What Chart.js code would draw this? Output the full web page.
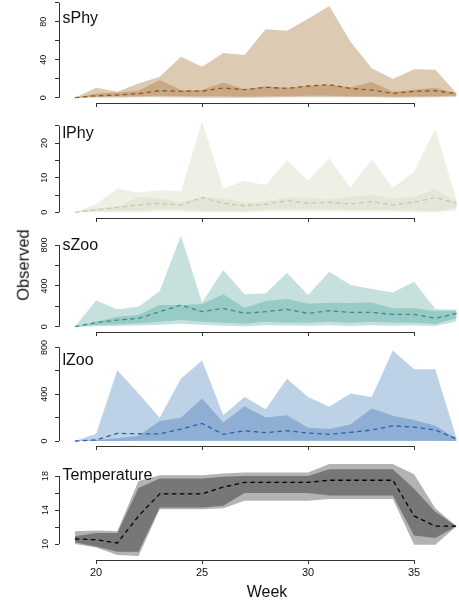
<!DOCTYPE html>
<html>
<head>
<meta charset="utf-8">
<script src="https://cdn.jsdelivr.net/npm/chart.js@4.4.1/dist/chart.umd.min.js"></script>
<style>
  html, body { margin: 0; padding: 0; background: #fff; overflow: hidden; }
  body { width: 459px; height: 606px; position: relative; font-family: "Liberation Sans", Arial, Helvetica, sans-serif; color: #111; }
  canvas { position: absolute; left: 0; }
  .lab { position: absolute; left: 62.5px; font-size: 16px; line-height: 1; white-space: nowrap; }
  #ylab { position: absolute; left: 23px; top: 265px; font-size: 16.5px; line-height: 1; white-space: nowrap;
          transform: translate(-50%, -50%) rotate(-90deg); }
  #xlab { position: absolute; left: 267px; top: 592px; font-size: 16px; line-height: 1; white-space: nowrap;
          transform: translate(-50%, -50%); }
</style>
</head>
<body>
<canvas id="c0"></canvas>
<canvas id="c1"></canvas>
<canvas id="c2"></canvas>
<canvas id="c3"></canvas>
<canvas id="c4"></canvas>
<div class="lab" style="top:9.5px">sPhy</div>
<div class="lab" style="top:125px">lPhy</div>
<div class="lab" style="top:236.5px">sZoo</div>
<div class="lab" style="top:352px">lZoo</div>
<div class="lab" style="top:466.5px">Temperature</div>
<div id="ylab">Observed</div>
<div id="xlab">Week</div>
<script>
const weeks = [19, 20, 21, 22, 23, 24, 25, 26, 27, 28, 29, 30, 31, 32, 33, 34, 35, 36, 37];
const weekTicks = [20, 25, 30, 35];

// small phytoplankton
const sPhyOuterLo = [0, 0.2, 0.3, 0.5, 0.5, 0.3, 0, 0, 0, 0.3, 0.5, 0.5, 0.5, 0.5, 0.5, 0.3, 0.3, 0.5, 1];
const sPhyOuterHi = [0, 10.5, 6.3, 15, 22, 43, 32.6, 47, 45, 72, 70.5, 83, 96.5, 59, 31, 19.6, 30, 29.5, 4.6];
const sPhyInnerLo = [0, 1, 1.2, 1.5, 2, 1.5, 1.5, 1.5, 1, 1.5, 1.5, 2, 2, 1.5, 1.5, 1, 1.2, 1.5, 2];
const sPhyInnerHi = [0, 4.5, 5.6, 7.4, 18.6, 8, 8, 16, 8.8, 12, 10.5, 12.6, 13.3, 10.9, 16.5, 6.3, 8.4, 10.5, 4.6];
const sPhyMedian = [0, 2.1, 2.8, 4.2, 7.4, 6.7, 7, 10.2, 8.4, 10.9, 9.8, 12.3, 13.7, 9.8, 8, 4.6, 6.7, 7.4, 4.2];

// large phytoplankton
const lPhyOuterLo = [0, 0, 0, 0, 0.2, 0.2, 0, 0, 0, 0.2, 0.2, 0.2, 0.2, 0.2, 0.2, 0.2, 0.1, 0, 0.5];
const lPhyOuterHi = [0, 2.3, 6.9, 5.7, 6.4, 6, 26.3, 6.9, 9.1, 7.9, 15.1, 9.2, 15.6, 7.1, 15.3, 7.1, 11.7, 24, 3.6];
const lPhyInnerLo = [0, 0.3, 0.5, 0.4, 1, 1, 0.3, 0.3, 0.3, 0.8, 0.8, 0.8, 0.8, 0.7, 0.7, 0.7, 0.5, 0.3, 1.2];
const lPhyInnerHi = [0, 1.2, 1.6, 4.5, 4, 2.9, 4.5, 4, 2.8, 3.1, 4.3, 4.2, 3.6, 4.5, 5, 4, 4.5, 6.7, 3.1];
const lPhyMedian = [0, 0.7, 1.4, 2.1, 2.6, 2.1, 4.3, 2.6, 1.9, 2.3, 3.4, 2.6, 2.9, 2.4, 3.1, 2.1, 2.9, 4.3, 2.6];

// small zooplankton
const sZooOuterLo = [0, 5, 8, 12, 20, 30, 20, 10, 5, 15, 12, 10, 15, 8, 15, 10, 12, 8, 50];
const sZooOuterHi = [0, 258, 170, 196, 349, 891, 238, 555, 317, 326, 529, 310, 539, 408, 369, 336, 441, 173, 165];
const sZooInnerLo = [0, 16, 23, 33, 49, 65, 49, 39, 29, 49, 39, 39, 49, 39, 49, 39, 39, 26, 82];
const sZooInnerHi = [0, 49, 98, 114, 212, 212, 222, 317, 186, 251, 271, 225, 235, 232, 238, 180, 180, 153, 157];
const sZooMedian = [0, 42, 65, 82, 147, 212, 147, 180, 131, 147, 170, 131, 157, 140, 140, 121, 121, 82, 131];

// large zooplankton
const lZooOuterLo = [0, 0, 0, 0, 0, 0, 0, 0, 0, 0, 0, 0, 0, 0, 0, 0, 0, 0, 0];
const lZooOuterHi = [0, 62, 604, 406, 199, 533, 689, 221, 377, 272, 533, 377, 292, 406, 377, 774, 613, 613, 23];
const lZooInnerLo = [0, 0, 1, 2, 3, 3, 3, 3, 3, 3, 3, 3, 3, 3, 3, 3, 3, 2, 1];
const lZooInnerHi = [0, 9, 23, 45, 170, 199, 363, 159, 298, 201, 221, 113, 102, 142, 278, 216, 179, 130, 23];
const lZooMedian = [0, 9, 65, 62, 60, 102, 150, 57, 88, 71, 88, 68, 57, 74, 94, 130, 119, 94, 17];

// temperature
const tempOuterLo = [10, 9.6, 8.7, 8.6, 14.1, 14.1, 14.1, 14.2, 15.1, 15.1, 15.1, 15.1, 15.3, 15.3, 15.3, 15.3, 9.9, 9.9, 12.1];
const tempOuterHi = [11.5, 11.6, 11.5, 17.4, 18.1, 18.1, 18.1, 18.3, 18.4, 18.4, 18.4, 18.4, 19.4, 19.4, 19.4, 19.4, 18.2, 14.2, 12.1];
const tempInnerLo = [10.2, 9.7, 9.1, 9.1, 14.3, 14.3, 14.3, 14.5, 16, 16, 16, 16, 15.7, 15.7, 15.7, 15.7, 11, 10.7, 12.1];
const tempInnerHi = [10.9, 11.3, 11.3, 16.6, 17.7, 17.7, 17.7, 17.9, 18, 18, 18, 18, 18.8, 18.8, 18.8, 18.8, 16.5, 13.8, 12.1];
const tempMedian = [10.6, 10.5, 10.1, 13.3, 15.9, 15.9, 15.9, 16.7, 17.25, 17.25, 17.25, 17.25, 17.5, 17.5, 17.5, 17.5, 13.3, 12.1, 12.1];

// y ticks and which of them carry a label
const sPhyTicks = [0, 20, 40, 60, 80, 100], sPhyLabels = [0, 40, 80];
const lPhyTicks = [0, 5, 10, 15, 20, 25], lPhyLabels = [0, 10, 20];
const zooTicks = [0, 200, 400, 600, 800], zooLabels = [0, 400, 800];
const tempTicks = [10, 12, 14, 16, 18], tempLabels = [10, 14, 18];

const AXIS = '#333';
const W = 459;
const LEFT = 59;

// R-style axis lines: only from first to last tick
const axisLines = {
  id: 'axisLines',
  afterDraw(chart) {
    const {ctx, chartArea, scales: {x, y}} = chart;
    ctx.save();
    ctx.strokeStyle = AXIS;
    ctx.lineWidth = 1;
    ctx.beginPath();
    const yt = y.ticks.map(t => t.value);
    const ax = Math.round(chartArea.left) + 0.5;
    ctx.moveTo(ax, y.getPixelForValue(Math.min(...yt)));
    ctx.lineTo(ax, y.getPixelForValue(Math.max(...yt)));
    const by = Math.round(chartArea.bottom) + 0.5;
    ctx.moveTo(x.getPixelForValue(weekTicks[0]), by);
    ctx.lineTo(x.getPixelForValue(weekTicks[weekTicks.length - 1]), by);
    ctx.stroke();
    ctx.restore();
  }
};

function panel(id, p) {
  const cv = document.getElementById(id);
  const h = p.padTop + (p.bottom - p.top) + p.below;
  cv.width = W; cv.height = h;
  cv.style.top = (p.top - p.padTop) + 'px';
  const pts = arr => arr.map((v, i) => ({x: weeks[i], y: v}));
  const band = {pointRadius: 0, borderWidth: 0, tension: 0};
  new Chart(cv, {
    type: 'line',
    data: {
      datasets: [
        {data: pts(p.median), borderColor: p.line, borderWidth: 1.3, borderDash: [4.5, 3.5], pointRadius: 0, fill: false, tension: 0},
        {data: pts(p.innerHi), backgroundColor: p.inner, fill: 2, ...band},
        {data: pts(p.innerLo), fill: false, ...band},
        {data: pts(p.outerHi), backgroundColor: p.outer, fill: 4, ...band},
        {data: pts(p.outerLo), fill: false, ...band}
      ]
    },
    options: {
      responsive: false,
      animation: false,
      events: [],
      layout: {padding: {top: p.padTop, left: 0, right: 0, bottom: 0}},
      plugins: {legend: {display: false}, tooltip: {enabled: false}},
      scales: {
        x: {
          type: 'linear', min: 18.25, max: 18.25 + (W - LEFT) / 21.2,
          afterBuildTicks: s => { s.ticks = weekTicks.map(v => ({value: v})); },
          afterFit: s => { s.height = p.below; s.paddingLeft = 0; s.paddingRight = 0; },
          border: {display: false},
          grid: {drawOnChartArea: false, drawTicks: true, tickLength: 4, color: AXIS, lineWidth: 1},
          ticks: {display: p.xLabels, autoSkip: false, maxRotation: 0, padding: 2, color: '#111',
                  font: {family: '"Liberation Sans", Arial, sans-serif', size: 11}}
        },
        y: {
          min: p.yMin, max: p.yMax,
          afterBuildTicks: s => { s.ticks = p.yTicks.map(v => ({value: v})); },
          afterFit: s => { s.width = LEFT; s.paddingTop = 0; s.paddingBottom = 0; },
          border: {display: false},
          grid: {drawOnChartArea: false, drawTicks: true, tickLength: 4, color: AXIS, lineWidth: 1},
          ticks: {autoSkip: false, minRotation: 90, maxRotation: 90, crossAlign: 'center', padding: p.yPad, color: '#111',
                  font: {family: '"Liberation Sans", Arial, sans-serif', size: 9}},
          // ticks without a label still get their tick mark
          afterTickToLabelConversion: s => { s.ticks.forEach(t => { t.label = p.yLabels.includes(t.value) ? String(t.value) : ''; }); }
        }
      }
    },
    plugins: [axisLines]
  });
}

// axis limits from a reference value's pixel and the px-per-unit of each panel
function limits(top, bottom, refVal, refPx, pxPerUnit) {
  return {yMax: refVal + (refPx - top) / pxPerUnit, yMin: refVal - (bottom - refPx) / pxPerUnit};
}

panel('c0', Object.assign({top: 0, bottom: 103, padTop: 0, below: 9, xLabels: false, yPad: 6,
  outer: '#dccab3', inner: '#c9a985', line: '#94581c',
  outerLo: sPhyOuterLo, outerHi: sPhyOuterHi, innerLo: sPhyInnerLo, innerHi: sPhyInnerHi, median: sPhyMedian,
  yTicks: sPhyTicks, yLabels: sPhyLabels}, limits(0, 103, 0, 97.7, 0.95)));

panel('c1', Object.assign({top: 118, bottom: 218, padTop: 6, below: 9, xLabels: false, yPad: 5,
  outer: '#eef0e6', inner: '#e3e7d7', line: '#c4c8b2',
  outerLo: lPhyOuterLo, outerHi: lPhyOuterHi, innerLo: lPhyInnerLo, innerHi: lPhyInnerHi, median: lPhyMedian,
  yTicks: lPhyTicks, yLabels: lPhyLabels}, limits(118, 218, 0, 212.3, 3.46)));

panel('c2', Object.assign({top: 228, bottom: 332, padTop: 8, below: 9, xLabels: false, yPad: 3,
  outer: '#c6e1dd', inner: '#98cbc5', line: '#3b8d86',
  outerLo: sZooOuterLo, outerHi: sZooOuterHi, innerLo: sZooInnerLo, innerHi: sZooInnerHi, median: sZooMedian,
  yTicks: zooTicks, yLabels: zooLabels}, limits(228, 332, 0, 326.7, 0.102)));

panel('c3', Object.assign({top: 340, bottom: 446, padTop: 8, below: 9, xLabels: false, yPad: 3,
  outer: '#bdd1e7', inner: '#8faed4', line: '#2a62b0',
  outerLo: lZooOuterLo, outerHi: lZooOuterHi, innerLo: lZooInnerLo, innerHi: lZooInnerHi, median: lZooMedian,
  yTicks: zooTicks, yLabels: zooLabels}, limits(340, 446, 0, 441, 0.117)));

panel('c4', Object.assign({top: 462, bottom: 560, padTop: 8, below: 46, xLabels: true, yPad: 4,
  outer: '#b3b3b3', inner: '#777777', line: '#000000',
  outerLo: tempOuterLo, outerHi: tempOuterHi, innerLo: tempInnerLo, innerHi: tempInnerHi, median: tempMedian,
  yTicks: tempTicks, yLabels: tempLabels}, limits(462, 560, 10, 544, 8.5)));
</script>
</body>
</html>
